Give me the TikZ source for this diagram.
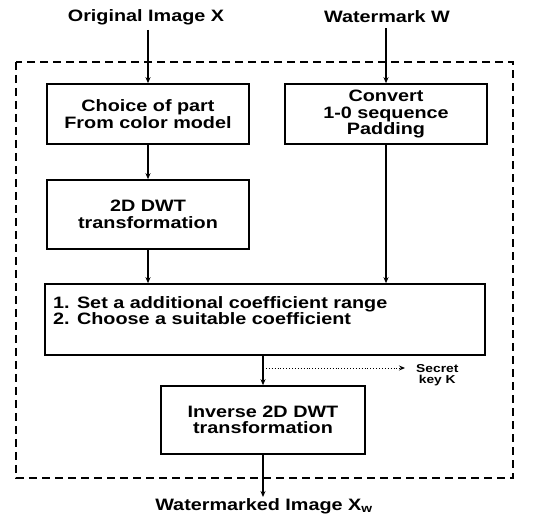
\documentclass[tikz,border=0pt]{standalone}
\usepackage{fontspec}
\setmainfont{Liberation Sans}[FakeStretch=1.2]
\usetikzlibrary{arrows.meta}
\begin{document}
\begin{tikzpicture}[x=1pt,y=-1pt,
  font=\bfseries\fontsize{16.5}{16.5}\selectfont,
  block/.style={draw, line width=1.6pt, align=center, inner sep=0pt},
  flow/.style={line width=1.4pt, -{Stealth[length=6pt,width=5pt]}},
  keyflow/.style={line width=0.9pt, dotted, -{Stealth[length=6pt,width=5pt]}},
  frame/.style={line width=1.4pt, dash pattern=on 8pt off 5pt},
  lbl/.style={align=center, inner sep=1pt}]
\useasboundingbox (0,0) rectangle (552,518);

% outer dashed frame
\draw[frame] (16,62) rectangle (513,478);

% inputs
\node[lbl] (orig) at (146,17) {Original Image X};
\node[lbl] (wm) at (387,17) {Watermark W};

% processing blocks
\node[block, minimum width=202pt, minimum height=60pt] (part) at (148,114)
  {Choice of part\\From color model};
\node[block, minimum width=202pt, minimum height=60pt] (conv) at (386,114)
  {Convert\\1-0 sequence\\Padding};
\node[block, minimum width=202pt, minimum height=69pt] (dwt) at (148,214.5)
  {2D DWT\\transformation};
\node[block, minimum width=440pt, minimum height=71pt] (coef) at (265,319.5) {};
\node[align=left, anchor=north west, inner sep=0pt] (coeftxt) at (53,296)
  {1. Set a additional coefficient range\\2. Choose a suitable coefficient};
\node[block, minimum width=204pt, minimum height=68pt] (inv) at (263,420)
  {Inverse 2D DWT\\transformation};

% output
\node[lbl, anchor=north] (out) at (264,497) {Watermarked Image X\textsubscript{w}};

% connectors
\draw[flow] (orig.south -| part.north) ++(0,4) -- (part.north);
\draw[flow] (wm.south -| conv.north) ++(0,4) -- (conv.north);
\draw[flow] (part.south) -- (dwt.north);
\draw[flow] (dwt.south) -- (dwt.south |- coef.north);
\draw[flow] (conv.south) -- (conv.south |- coef.north);
\draw[flow] (inv.north |- coef.south) -- (inv.north);
\draw[flow] (inv.south) -- (inv.south |- out.north);

% secret key branch
\coordinate (tap) at (263,368);
\coordinate (keyend) at (405,368);
\draw[keyflow] (tap) -- (keyend);
\node[align=center, anchor=west, inner sep=0pt,
  font=\bfseries\fontsize{11.5}{11.5}\selectfont] (key) at (416,375) {Secret\\key K};
\end{tikzpicture}
\end{document}
